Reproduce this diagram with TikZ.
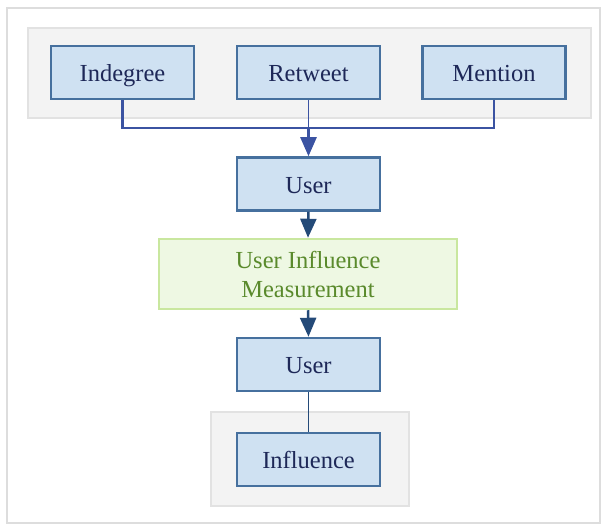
\documentclass[tikz,border=0pt]{standalone}
\usepackage{fontspec}
\setmainfont{Liberation Serif}
\usetikzlibrary{arrows.meta}
\definecolor{boxfill}{HTML}{CFE1F2}
\definecolor{boxline}{HTML}{46709E}
\definecolor{boxtext}{HTML}{1E2858}
\definecolor{grpfill}{HTML}{F3F3F3}
\definecolor{grpline}{HTML}{E2E2E2}
\definecolor{greenfill}{HTML}{EEF8E3}
\definecolor{greenline}{HTML}{C9E79F}
\definecolor{greentext}{HTML}{5A8A2C}
\definecolor{linkblue}{HTML}{3B53A2}
\definecolor{linkdark}{HTML}{244A78}
\definecolor{frameline}{HTML}{DDDDDD}
\tikzset{
  x=1pt, y=-1pt,
  every node/.style={font=\fontsize{24.5}{29}\selectfont},
  bluebox/.style={draw=boxline, fill=boxfill, line width=2.5pt, text=boxtext,
    minimum width=143pt, minimum height=53pt, inner sep=0pt, align=center,
    text height=19pt, text depth=0pt},
  greenbox/.style={draw=greenline, fill=greenfill, line width=2.5pt, text=greentext,
    minimum width=298pt, minimum height=70pt, inner sep=0pt, align=center},
  group/.style={draw=grpline, fill=grpfill, line width=2.5pt},
  head/.style={-{Triangle[width=16pt,length=19pt]}},
}
\begin{document}
\begin{tikzpicture}
  \useasboundingbox (0,0) rectangle (603,526);
  % outer frame
  \draw[frameline, line width=1.5pt] (7,8) rectangle (600,523);
  % groups
  \draw[group] (28,28) rectangle (591,118);
  \draw[group] (211,412) rectangle (409,506);
  % nodes
  \node[bluebox] (ind) at (122.5,72.5) {Indegree};
  \node[bluebox] (ret) at (308.5,72.5) {Retweet};
  \node[bluebox] (men) at (494,72.5) {Mention};
  \node[bluebox] (user1) at (308.5,184) {User};
  \node[greenbox] (uim) at (308,274) {User Influence\\Measurement};
  \node[bluebox] (user2) at (308.5,364.5) {User};
  \node[bluebox] (infl) at (308.5,459.5) {Influence};
  \coordinate (j) at (308.5,128);
  % connectors
  \draw[linkblue, line width=2.5pt] (ind.south) |- (j) -| (men.south);
  \draw[linkblue, line width=1.3pt] (ret.south) -- (j);
  \draw[linkblue, line width=2.5pt, head] (j) -- (user1.north);
  \draw[linkdark, line width=2.5pt, head] (user1.south) -- (uim.north);
  \draw[linkdark, line width=2.5pt, head] (uim.south) -- (user2.north);
  \draw[linkdark, line width=1.3pt] (user2.south) -- (infl.north);
\end{tikzpicture}
\end{document}
